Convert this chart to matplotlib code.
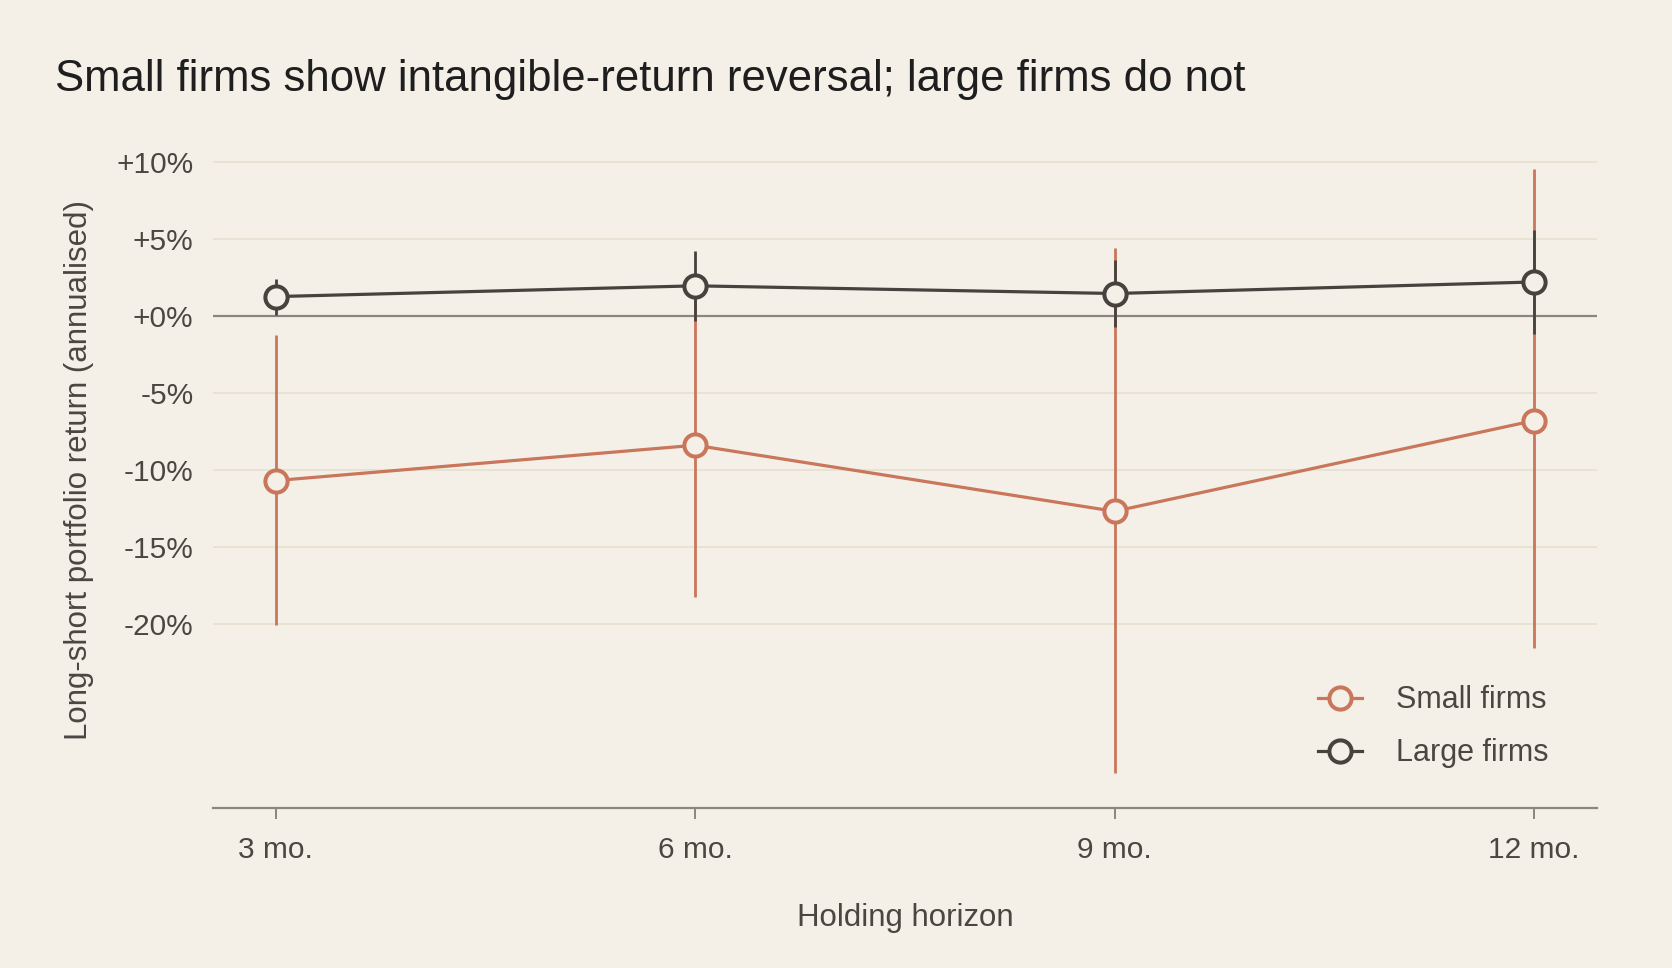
import numpy as np
import matplotlib.pyplot as plt

# Data
horizons = ["3 mo.", "6 mo.", "9 mo.", "12 mo."]
small_ret = [-10.7, -8.4, -12.7, -6.8]
small_lo = [-20.1, -18.3, -29.7, -21.6]
small_hi = [-1.2, 1.5, 4.4, 9.6]
large_ret = [1.27, 1.97, 1.47, 2.22]
large_lo = [0.1, -0.35, -0.7, -1.17]
large_hi = [2.42, 4.25, 3.62, 5.62]

BG = '#F4F0E8'
RED = '#C9765A'
DARK = '#46433E'
TXT = '#4A4641'

plt.rcParams['font.family'] = ['Liberation Sans', 'DejaVu Sans']

fig = plt.figure(figsize=(16.72, 9.68), dpi=100, facecolor=BG)
ax = fig.add_axes([0.1274, 0.1653, 0.8276, 0.6987], facecolor=BG)

xpos = np.arange(len(horizons))

def draw_series(vals, lo, hi, color, label, z):
    vals = np.array(vals)
    yerr = [vals - np.array(lo), np.array(hi) - vals]
    ax.errorbar(xpos, vals, yerr=yerr, fmt='none', ecolor=color,
                elinewidth=2.0, capsize=0, zorder=z)
    ax.plot(xpos, vals, color=color, lw=2.3, marker='o', ms=16,
            mfc=BG, mec=color, mew=2.9, label=label, zorder=z + 1)

draw_series(small_ret, small_lo, small_hi, RED, "Small firms", 3)
draw_series(large_ret, large_lo, large_hi, DARK, "Large firms", 5)

# Zero line & grid
ax.axhline(0, color='#8A857D', lw=1.6, zorder=2)
yticks = [-20, -15, -10, -5, 0, 5, 10]
ax.set_yticks(yticks)
ax.set_yticklabels([f"{v:+d}%" if v >= 0 else f"{v}%" for v in yticks])
ax.yaxis.grid(True, color='#E6E1CF', lw=1.3, zorder=0)
ax.set_axisbelow(True)

ax.set_xticks(xpos)
ax.set_xticklabels(horizons)
ax.set_xlim(-0.15, 3.15)
ax.set_ylim(-32, 12)

for side in ['top', 'right', 'left']:
    ax.spines[side].set_visible(False)
ax.spines['bottom'].set_color('#8A857D')
ax.spines['bottom'].set_linewidth(1.6)

ax.tick_params(axis='y', length=0, pad=14, labelsize=21.5, labelcolor=TXT)
ax.tick_params(axis='x', length=8, width=1.4, color='#8A857D', pad=12,
               labelsize=21.5, labelcolor=TXT)

ax.set_xlabel("Holding horizon", size=22.5, color=TXT, labelpad=28)
ax.set_ylabel("Long-short portfolio return (annualised)", size=22.5, color=TXT,
              labelpad=16)

fig.text(0.033, 0.918, "Small firms show intangible-return reversal; large firms do not",
         size=31.5, color='#1E1E1E', ha='left', va='center')

ax.legend(loc='lower right', bbox_to_anchor=(0.985, 0.018), frameon=False,
          fontsize=22, labelcolor=TXT, handlelength=1.45, handletextpad=1.1,
          labelspacing=0.75)

plt.savefig("out.png", dpi=100, facecolor=BG)
